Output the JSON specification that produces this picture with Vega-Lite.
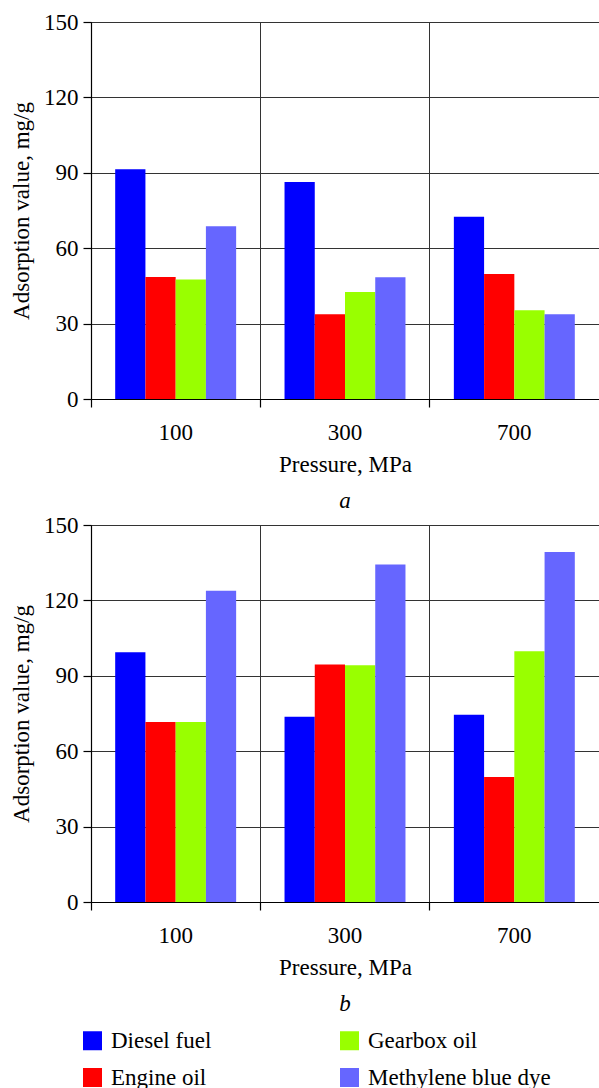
{
  "$schema": "https://vega.github.io/schema/vega-lite/v6.json",
  "padding": {"left": 10, "top": 10, "right": 0, "bottom": 0},
  "background": "white",
  "config": {
    "view": {"stroke": "#333", "strokeWidth": 1},
    "concat": {"spacing": -1}
  },
  "datasets": {
    "a": [
      {"pressure": "100", "liquid": "Diesel fuel", "value": 91.4},
      {"pressure": "100", "liquid": "Engine oil", "value": 48.5},
      {"pressure": "100", "liquid": "Gearbox oil", "value": 47.5},
      {"pressure": "100", "liquid": "Methylene blue dye", "value": 68.7},
      {"pressure": "300", "liquid": "Diesel fuel", "value": 86.3},
      {"pressure": "300", "liquid": "Engine oil", "value": 33.7},
      {"pressure": "300", "liquid": "Gearbox oil", "value": 42.6},
      {"pressure": "300", "liquid": "Methylene blue dye", "value": 48.4},
      {"pressure": "700", "liquid": "Diesel fuel", "value": 72.5},
      {"pressure": "700", "liquid": "Engine oil", "value": 49.7},
      {"pressure": "700", "liquid": "Gearbox oil", "value": 35.3},
      {"pressure": "700", "liquid": "Methylene blue dye", "value": 33.7}
    ],
    "b": [
      {"pressure": "100", "liquid": "Diesel fuel", "value": 99.4},
      {"pressure": "100", "liquid": "Engine oil", "value": 71.6},
      {"pressure": "100", "liquid": "Gearbox oil", "value": 71.6},
      {"pressure": "100", "liquid": "Methylene blue dye", "value": 123.8},
      {"pressure": "300", "liquid": "Diesel fuel", "value": 73.7},
      {"pressure": "300", "liquid": "Engine oil", "value": 94.5},
      {"pressure": "300", "liquid": "Gearbox oil", "value": 94.2},
      {"pressure": "300", "liquid": "Methylene blue dye", "value": 134.3},
      {"pressure": "700", "liquid": "Diesel fuel", "value": 74.5},
      {"pressure": "700", "liquid": "Engine oil", "value": 49.7},
      {"pressure": "700", "liquid": "Gearbox oil", "value": 99.8},
      {"pressure": "700", "liquid": "Methylene blue dye", "value": 139.3}
    ]
  },
  "vconcat": [
    {
      "data": {"name": "a"},
      "width": 508, "height": 377,
      "title": {"text": "a", "orient": "bottom", "font": "Liberation Serif", "fontStyle": "italic", "fontWeight": "normal", "fontSize": 23, "color": "black", "offset": 14},
      "mark": {"type": "bar"},
      "encoding": {
        "x": {"field": "pressure", "type": "nominal", "sort": ["100", "300", "700"],
          "scale": {"paddingInner": 0, "paddingOuter": 0},
          "axis": {"title": "Pressure, MPa", "labelAngle": 0, "bandPosition": 0, "grid": true, "gridColor": "#333", "gridOpacity": 1, "gridWidth": 1,
            "domainColor": "black", "domainWidth": 1.2, "tickColor": "black", "tickWidth": 1.2, "tickSize": 8,
            "labelFont": "Liberation Serif", "labelFontSize": 23, "labelColor": "black", "labelPadding": 14,
            "titleFont": "Liberation Serif", "titleFontSize": 23, "titleFontWeight": "normal", "titleColor": "black", "titlePadding": 9}},
        "xOffset": {"field": "liquid", "type": "nominal", "sort": ["Diesel fuel", "Engine oil", "Gearbox oil", "Methylene blue dye"],
          "scale": {"paddingInner": 0, "paddingOuter": 0.8}},
        "y": {"field": "value", "type": "quantitative", "scale": {"domain": [0, 150], "nice": false},
          "axis": {"values": [0, 30, 60, 90, 120, 150], "title": "Adsorption value, mg/g", "grid": true, "gridColor": "#333", "gridOpacity": 1, "gridWidth": 1,
            "domainColor": "black", "domainWidth": 1.2, "tickColor": "black", "tickWidth": 1.2, "tickSize": 8,
            "labelFont": "Liberation Serif", "labelFontSize": 23, "labelColor": "black", "labelPadding": 5,
            "titleFont": "Liberation Serif", "titleFontSize": 23, "titleFontWeight": "normal", "titleColor": "black", "titlePadding": 10}},
        "color": {"field": "liquid", "type": "nominal",
          "scale": {"domain": ["Diesel fuel", "Gearbox oil", "Engine oil", "Methylene blue dye"], "range": ["#0000FF", "#99FF00", "#FF0000", "#6666FF"]},
          "legend": {"title": null, "orient": "none", "legendX": -10, "legendY": 1007, "columns": 2, "direction": "horizontal",
            "labelFont": "Liberation Serif", "labelFontSize": 23, "labelColor": "black", "labelLimit": 400,
            "symbolType": "square", "symbolSize": 361, "symbolStrokeWidth": 0,
            "labelOffset": 7, "columnPadding": 126, "rowPadding": 13}}
      }
    },
    {
      "data": {"name": "b"},
      "width": 508, "height": 377,
      "title": {"text": "b", "orient": "bottom", "font": "Liberation Serif", "fontStyle": "italic", "fontWeight": "normal", "fontSize": 23, "color": "black", "offset": 14},
      "mark": {"type": "bar"},
      "encoding": {
        "x": {"field": "pressure", "type": "nominal", "sort": ["100", "300", "700"],
          "scale": {"paddingInner": 0, "paddingOuter": 0},
          "axis": {"title": "Pressure, MPa", "labelAngle": 0, "bandPosition": 0, "grid": true, "gridColor": "#333", "gridOpacity": 1, "gridWidth": 1,
            "domainColor": "black", "domainWidth": 1.2, "tickColor": "black", "tickWidth": 1.2, "tickSize": 8,
            "labelFont": "Liberation Serif", "labelFontSize": 23, "labelColor": "black", "labelPadding": 14,
            "titleFont": "Liberation Serif", "titleFontSize": 23, "titleFontWeight": "normal", "titleColor": "black", "titlePadding": 9}},
        "xOffset": {"field": "liquid", "type": "nominal", "sort": ["Diesel fuel", "Engine oil", "Gearbox oil", "Methylene blue dye"],
          "scale": {"paddingInner": 0, "paddingOuter": 0.8}},
        "y": {"field": "value", "type": "quantitative", "scale": {"domain": [0, 150], "nice": false},
          "axis": {"values": [0, 30, 60, 90, 120, 150], "title": "Adsorption value, mg/g", "grid": true, "gridColor": "#333", "gridOpacity": 1, "gridWidth": 1,
            "domainColor": "black", "domainWidth": 1.2, "tickColor": "black", "tickWidth": 1.2, "tickSize": 8,
            "labelFont": "Liberation Serif", "labelFontSize": 23, "labelColor": "black", "labelPadding": 5,
            "titleFont": "Liberation Serif", "titleFontSize": 23, "titleFontWeight": "normal", "titleColor": "black", "titlePadding": 10}},
        "color": {"field": "liquid", "type": "nominal",
          "scale": {"domain": ["Diesel fuel", "Gearbox oil", "Engine oil", "Methylene blue dye"], "range": ["#0000FF", "#99FF00", "#FF0000", "#6666FF"]},
          "legend": {"title": null, "orient": "none", "legendX": -10, "legendY": 1007, "columns": 2, "direction": "horizontal",
            "labelFont": "Liberation Serif", "labelFontSize": 23, "labelColor": "black", "labelLimit": 400,
            "symbolType": "square", "symbolSize": 361, "symbolStrokeWidth": 0,
            "labelOffset": 7, "columnPadding": 126, "rowPadding": 13}}
      }
    }
  ],
  "resolve": {"legend": {"color": "shared"}}
}
